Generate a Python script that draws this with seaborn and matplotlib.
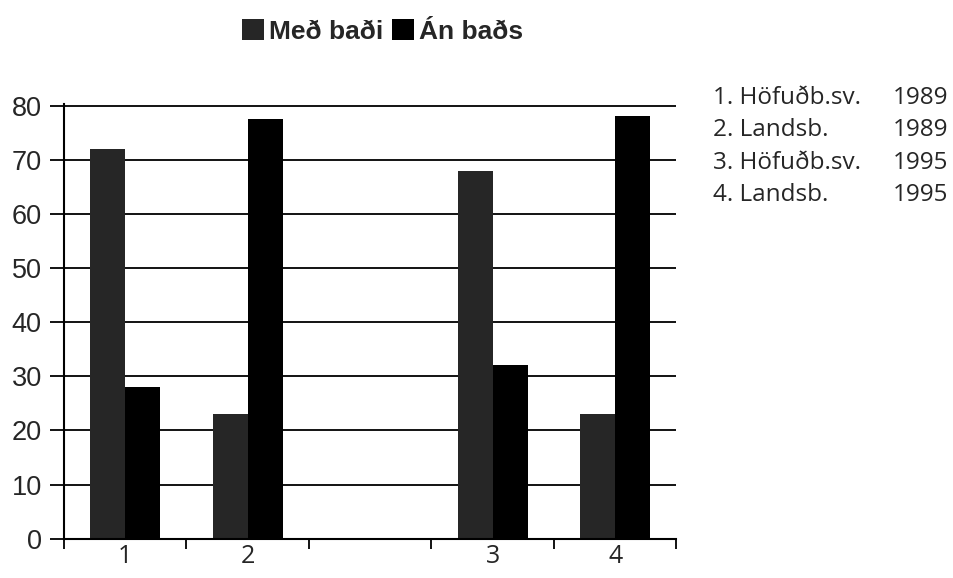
import matplotlib
matplotlib.use("Agg")
import matplotlib.pyplot as plt
from matplotlib.patches import Patch
import seaborn as sns
import pandas as pd

# ---- data ----
groups = ["1", "2", "3", "4"]
slot_order = ["1", "2", " ", "3", "4"]
series = ["Með baði", "Án baðs"]
med_badi = [72, 23, 68, 23]
an_bads = [28, 77.5, 32, 78]
y_ticks = [0, 10, 20, 30, 40, 50, 60, 70, 80]
side_labels = ["1. Höfuðb.sv.", "2. Landsb.", "3. Höfuðb.sv.", "4. Landsb."]
side_years = ["1989", "1989", "1995", "1995"]
colors = ["#262626", "#000000"]

df = pd.DataFrame({
    "group": groups * 2,
    "series": [series[0]] * 4 + [series[1]] * 4,
    "value": med_badi + an_bads,
})

sns.set_theme(style="white")
plt.rcParams["font.family"] = ["Liberation Sans", "DejaVu Sans"]

fig = plt.figure(figsize=(9.54, 5.78), dpi=100)
ax = fig.add_axes([0.067, 0.068, 0.642, 0.752])

sns.barplot(data=df, x="group", y="value", hue="series", order=slot_order,
            hue_order=series, palette=colors, width=0.57, gap=0,
            saturation=1, edgecolor="none", linewidth=0, legend=False, ax=ax)

ax.set_xlim(-0.5, 4.5)
ax.set_ylim(0, 80.3)
ax.set_yticks(y_ticks)
ax.set_yticklabels([str(t) for t in y_ticks], fontsize=19.5)
ax.yaxis.grid(True, color="black", linewidth=1.3)
ax.set_axisbelow(True)

# x labels at slot centres, ticks at slot boundaries
ax.set_xticks([0, 1, 3, 4])
ax.set_xticklabels(groups, fontsize=18, family=["Open Sans", "DejaVu Sans"])
ax.tick_params(axis="x", which="major", length=0, pad=4)
ax.set_xticks([-0.5, 0.5, 1.5, 2.5, 3.5, 4.5], minor=True)
ax.tick_params(axis="x", which="minor", direction="out", length=7, width=1.3,
               color="black", bottom=True)
ax.tick_params(axis="y", direction="out", length=10, width=1.3, color="black",
               left=True, pad=6)

for s in ["top", "right"]:
    ax.spines[s].set_visible(False)
for s in ["left", "bottom"]:
    ax.spines[s].set_color("black")
    ax.spines[s].set_linewidth(1.5)
ax.set_xlabel("")
ax.set_ylabel("")

# legend at top
handles = [Patch(facecolor=c, edgecolor="none") for c in colors]
fig.legend(handles, series, loc="center", bbox_to_anchor=(0.401, 0.946),
           ncol=2, frameon=False, handlelength=0.85, handleheight=0.85,
           handletextpad=0.2, columnspacing=0.3,
           prop={"family": "Liberation Sans", "weight": "bold", "size": 19})

# side key
ys = [98, 130, 163, 195]
for lab, yr, yp in zip(side_labels, side_years, ys):
    fig.text(713 / 954, 1 - yp / 578, lab, ha="left", va="center",
             fontsize=17.5, family=["Open Sans", "DejaVu Sans"])
    fig.text(948 / 954, 1 - yp / 578, yr, ha="right", va="center",
             fontsize=17.5, family=["Open Sans", "DejaVu Sans"])

fig.savefig("out.png", dpi=100)
